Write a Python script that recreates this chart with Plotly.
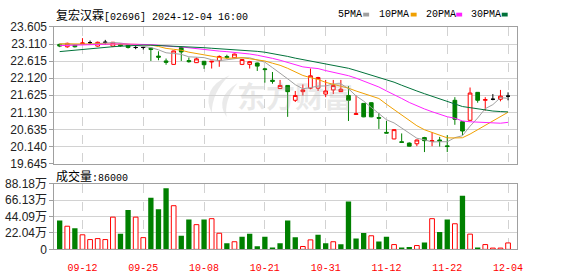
import plotly.graph_objects as go
import pandas as pd

# ---------------- data ----------------
dates = ["09-09", "09-10", "09-11", "09-12", "09-13", "09-16", "09-17", "09-19", "09-20", "09-23",
         "09-24", "09-25", "09-26", "09-27", "09-30", "10-02", "10-03", "10-04", "10-07", "10-08",
         "10-09", "10-10", "10-14", "10-15", "10-16", "10-17", "10-18", "10-21", "10-22", "10-23",
         "10-24", "10-25", "10-28", "10-29", "10-30", "10-31", "11-01", "11-04", "11-05", "11-06",
         "11-07", "11-08", "11-11", "11-12", "11-13", "11-14", "11-15", "11-18", "11-19", "11-20",
         "11-21", "11-22", "11-25", "11-26", "11-27", "11-28", "11-29", "12-02", "12-03", "12-04"]

opens = [23.10, 23.03, 23.09, 23.12, 23.15, 23.05, 23.16, 23.05, 23.10, 23.08,
         23.01, 23.01, 22.99, 22.76, 22.62, 22.52, 23.01, 22.63, 22.57, 22.61,
         22.59, 22.63, 22.75, 22.71, 22.52, 22.52, 22.56, 22.39, 22.06, 21.82,
         21.91, 21.48, 21.73, 21.83, 21.83, 21.66, 21.78, 21.73, 21.62, 21.07,
         21.39, 21.41, 20.98, 20.55, 20.36, 20.28, 20.24, 20.22, 20.40, 20.29,
         20.33, 20.16, 21.48, 20.86, 20.90, 21.71, 21.48, 21.51, 21.51, 21.60]
highs = [23.12, 23.15, 23.10, 23.28, 23.21, 23.18, 23.23, 23.17, 23.12, 23.10,
         23.05, 23.04, 23.01, 22.90, 22.69, 22.92, 23.04, 22.72, 22.72, 22.62,
         22.62, 22.78, 22.80, 22.83, 22.68, 22.62, 22.57, 22.42, 22.30, 22.07,
         21.92, 21.75, 21.94, 22.40, 22.16, 22.07, 22.07, 22.07, 21.89, 21.62,
         21.40, 21.42, 21.11, 20.88, 20.64, 20.52, 20.26, 20.34, 20.42, 20.56,
         20.42, 20.47, 21.57, 20.88, 21.85, 21.72, 21.57, 21.66, 21.78, 21.71]
lows = [23.02, 23.00, 23.01, 23.09, 23.09, 23.03, 23.09, 23.02, 23.03, 22.98,
        22.96, 22.95, 22.62, 22.64, 22.51, 22.51, 22.62, 22.57, 22.56, 22.39,
        22.40, 22.45, 22.68, 22.70, 22.50, 22.40, 22.33, 21.99, 21.96, 21.81,
        21.00, 21.43, 21.62, 21.80, 21.75, 21.57, 21.66, 21.72, 20.88, 21.06,
        20.99, 20.99, 20.65, 20.52, 20.35, 20.25, 20.14, 20.15, 19.98, 20.15,
        20.14, 19.98, 20.77, 20.47, 20.89, 21.41, 21.18, 21.48, 21.45, 21.48]
closes = [23.05, 23.13, 23.03, 23.14, 23.15, 23.16, 23.16, 23.16, 23.06, 23.01,
          23.01, 23.01, 22.95, 22.73, 22.58, 22.91, 22.88, 22.60, 22.68, 22.51,
          22.61, 22.75, 22.72, 22.82, 22.66, 22.60, 22.47, 22.37, 22.03, 21.91,
          21.73, 21.62, 21.78, 22.19, 22.14, 21.75, 21.91, 21.80, 21.48, 21.09,
          21.00, 21.00, 20.96, 20.53, 20.63, 20.26, 20.15, 20.33, 20.31, 20.31,
          20.30, 20.14, 20.93, 20.59, 21.69, 21.48, 21.50, 21.51, 21.60, 21.60]
# volume in 万 shares
volumes = [38.6, 31.0, 28.4, 19.5, 13.1, 14.4, 13.1, 43.2, 20.8, 52.6,
           43.2, 15.7, 69.1, 53.8, 81.8, 58.5, 18.2, 39.9, 33.1, 39.9,
           41.1, 21.6, 8.1, 10.2, 17.0, 20.8, 4.2, 17.0, 1.7, 8.1,
           38.6, 16.1, 3.8, 12.7, 19.5, 8.1, 10.2, 6.8, 64.0, 14.4,
           22.0, 18.2, 10.6, 17.0, 6.4, 1.7, 3.0, 5.1, 9.3, 41.1,
           23.3, 39.9, 34.3, 71.7, 20.4, 1.7, 6.4, 1.7, 1.7, 8.6]
# estimated closes of the 29 sessions before 09-09 (only feed the moving averages)
prior_closes = [22.45, 22.50, 22.48, 22.55, 22.60, 22.52, 22.58, 22.62, 22.55, 22.60,
                22.95, 23.00, 22.98, 23.05, 23.02, 22.97, 23.03, 23.00, 23.02,
                23.10, 23.12, 23.15, 23.08, 23.12, 23.14, 23.10, 23.13, 23.15, 23.11]

tick_labels = ["09-12", "09-25", "10-08", "10-21", "10-31", "11-12", "11-22", "12-04"]
price_ticks = [23.605, 23.110, 22.615, 22.120, 21.625, 21.130, 20.635, 20.140, 19.645]
vol_ticks = [0, 22.04, 44.09, 66.13, 88.18]
ma_periods = [5, 10, 20, 30]
ma_names = ["5PMA", "10PMA", "20PMA", "30PMA"]
ma_colors = ["#a0a0a0", "#f0a000", "#ff22ff", "#00723a"]
title_name = "复宏汉霖"
title_rest = "[02696] 2024-12-04 16:00"

# ---------------- layout helpers ----------------
W, H = 578, 276
def px(x):
    return x / W
def py(y):
    return (H - y) / H

UP = "#ff0000"
DOWN = "#008000"
GRID = "#d2d2d2"
BORDER = "#a0a0a0"
TXT = "#222222"
MONO = "Liberation Mono, DejaVu Sans Mono, monospace"
CJK = "Noto Sans CJK SC"
WM = "rgba(170,170,170,0.25)"

n = len(dates)
idx = list(range(n))
all_close = pd.Series(prior_closes + closes)
mas = [all_close.rolling(p).mean().iloc[len(prior_closes):].tolist() for p in ma_periods]

fig = go.Figure()

# moving averages
for name, vals, col in zip(ma_names, mas, ma_colors):
    fig.add_trace(go.Scatter(x=idx, y=vals, mode="lines", name=name,
                             line=dict(color=col, width=1), xaxis="x", yaxis="y",
                             showlegend=False, hoverinfo="skip"))

# candles split into rising / falling / flat
def subset(cond):
    sel = [i for i in idx if cond(opens[i], closes[i])]
    return (sel, [opens[i] for i in sel], [highs[i] for i in sel],
            [lows[i] for i in sel], [closes[i] for i in sel])

for cond, col, fill in [(lambda o, c: c > o, UP, "#ffffff"),
                        (lambda o, c: c < o, DOWN, DOWN),
                        (lambda o, c: c == o, "#000000", "#000000")]:
    xs, o, h, l, c = subset(cond)
    fig.add_trace(go.Candlestick(
        x=xs, open=o, high=h, low=l, close=c, xaxis="x", yaxis="y",
        increasing=dict(line=dict(color=col, width=1), fillcolor=fill),
        decreasing=dict(line=dict(color=col, width=1), fillcolor=fill),
        whiskerwidth=0, showlegend=False, hoverinfo="skip"))

# volume bars: colour by close vs previous close
prev = [prior_closes[-1]] + closes[:-1]
vol_up = [closes[i] >= prev[i] for i in idx]
xu = [i for i in idx if vol_up[i]]
xd = [i for i in idx if not vol_up[i]]
fig.add_trace(go.Bar(x=xd, y=[volumes[i] for i in xd], width=0.7, xaxis="x2", yaxis="y2",
                     marker=dict(color=DOWN, line=dict(width=0)), showlegend=False,
                     hoverinfo="skip"))
fig.add_trace(go.Bar(x=xu, y=[volumes[i] for i in xu], width=0.62, xaxis="x2", yaxis="y2",
                     marker=dict(color="#ffffff", line=dict(color=UP, width=1)),
                     showlegend=False, hoverinfo="skip"))

xdom = [px(55), px(522.3)]
xrange = [-0.69, 60.16]
tickvals = [dates.index(d) for d in tick_labels]

common_x = dict(domain=xdom, range=xrange, tickmode="array", tickvals=tickvals,
                showgrid=True, gridcolor=GRID, griddash="dash", gridwidth=1,
                showline=True, linecolor=BORDER, linewidth=1, mirror=True,
                zeroline=False, fixedrange=True)

fig.update_layout(
    width=W, height=H, autosize=False,
    margin=dict(l=0, r=0, t=0, b=0),
    paper_bgcolor="#ffffff", plot_bgcolor="#ffffff",
    barmode="overlay", bargap=0.3,
    xaxis=dict(**common_x, anchor="y", showticklabels=False, ticks="",
               rangeslider=dict(visible=False)),
    yaxis=dict(domain=[py(165), py(21)], range=[19.6449, 23.6051], anchor="x",
               tickmode="array", tickvals=price_ticks,
               ticktext=[f"{v:.3f}" for v in price_ticks],
               showgrid=True, gridcolor=GRID, gridwidth=1, zeroline=False,
               showline=True, linecolor=BORDER, mirror=True,
               ticks="outside", ticklen=4, tickcolor=BORDER,
               tickfont=dict(family="Liberation Sans", size=12, color=TXT)),
    xaxis2=dict(**common_x, anchor="y2", showticklabels=True, ticktext=tick_labels,
                ticks="outside", ticklen=9, tickcolor="rgba(0,0,0,0)",
                tickfont=dict(family=MONO, size=10, color=UP)),
    yaxis2=dict(domain=[py(255.3), py(186)], range=[0, 88.1801], anchor="x2",
                tickmode="array", tickvals=vol_ticks,
                ticktext=["0" if v == 0 else f"{v:.2f}万" for v in vol_ticks],
                showgrid=True, gridcolor=GRID, gridwidth=1, zeroline=False,
                showline=True, linecolor=BORDER, mirror=True,
                ticks="outside", ticklen=4, tickcolor=BORDER,
                tickfont=dict(family=f"Liberation Sans, {CJK}", size=12, color=TXT)),
)

ann = []
# watermark
ann.append(dict(text="<b>东方财富</b>", x=px(298), y=py(93), xref="paper", yref="paper",
                showarrow=False, font=dict(family=CJK, size=29, color=WM),
                xanchor="center", yanchor="middle"))
# title
ann.append(dict(text=f'<span style="font-family:{CJK};font-size:12px">{title_name}</span>{title_rest}',
                x=px(55), y=py(8), xref="paper", yref="paper", showarrow=False,
                xanchor="left", yanchor="middle", font=dict(family=MONO, size=10, color="#000000")))
# volume label
ann.append(dict(text=f'<span style="font-family:{CJK};font-size:12px">成交量</span>:{int(round(volumes[-1] * 10000))}',
                x=px(55), y=py(177), xref="paper", yref="paper", showarrow=False,
                xanchor="left", yanchor="middle", font=dict(family=MONO, size=10, color="#000000")))

shapes = []
# watermark logo (two light swooshes)
def pth(points):
    (x0, y0), (cx1, cy1), (x1, y1), (cx2, cy2) = points
    return (f"M {px(x0)},{py(y0)} Q {px(cx1)},{py(cy1)} {px(x1)},{py(y1)} "
            f"Q {px(cx2)},{py(cy2)} {px(x0)},{py(y0)} Z")
shapes.append(dict(type="path", xref="paper", yref="paper", layer="below",
                   path=pth([(232, 72), (202, 86), (214, 112), (214, 90)]),
                   fillcolor=WM, line=dict(width=0)))
shapes.append(dict(type="path", xref="paper", yref="paper", layer="below",
                   path=pth([(240, 80), (216, 96), (229, 116), (226, 98)]),
                   fillcolor=WM, line=dict(width=0)))

legend_x = [340, 381, 428, 474]
square_x = [367, 415, 461, 507]
for name, col, lx, sx in zip(ma_names, ma_colors, legend_x, square_x):
    ann.append(dict(text=name, x=px(lx), y=py(8), xref="paper", yref="paper",
                    showarrow=False, xanchor="left", yanchor="middle",
                    font=dict(family=MONO, size=10, color="#000000")))
    shapes.append(dict(type="rect", xref="paper", yref="paper",
                       x0=px(sx), x1=px(sx + 6), y0=py(10), y1=py(6),
                       fillcolor=col, line=dict(width=0)))

fig.update_layout(annotations=ann, shapes=shapes)
fig.write_html("out.html")
